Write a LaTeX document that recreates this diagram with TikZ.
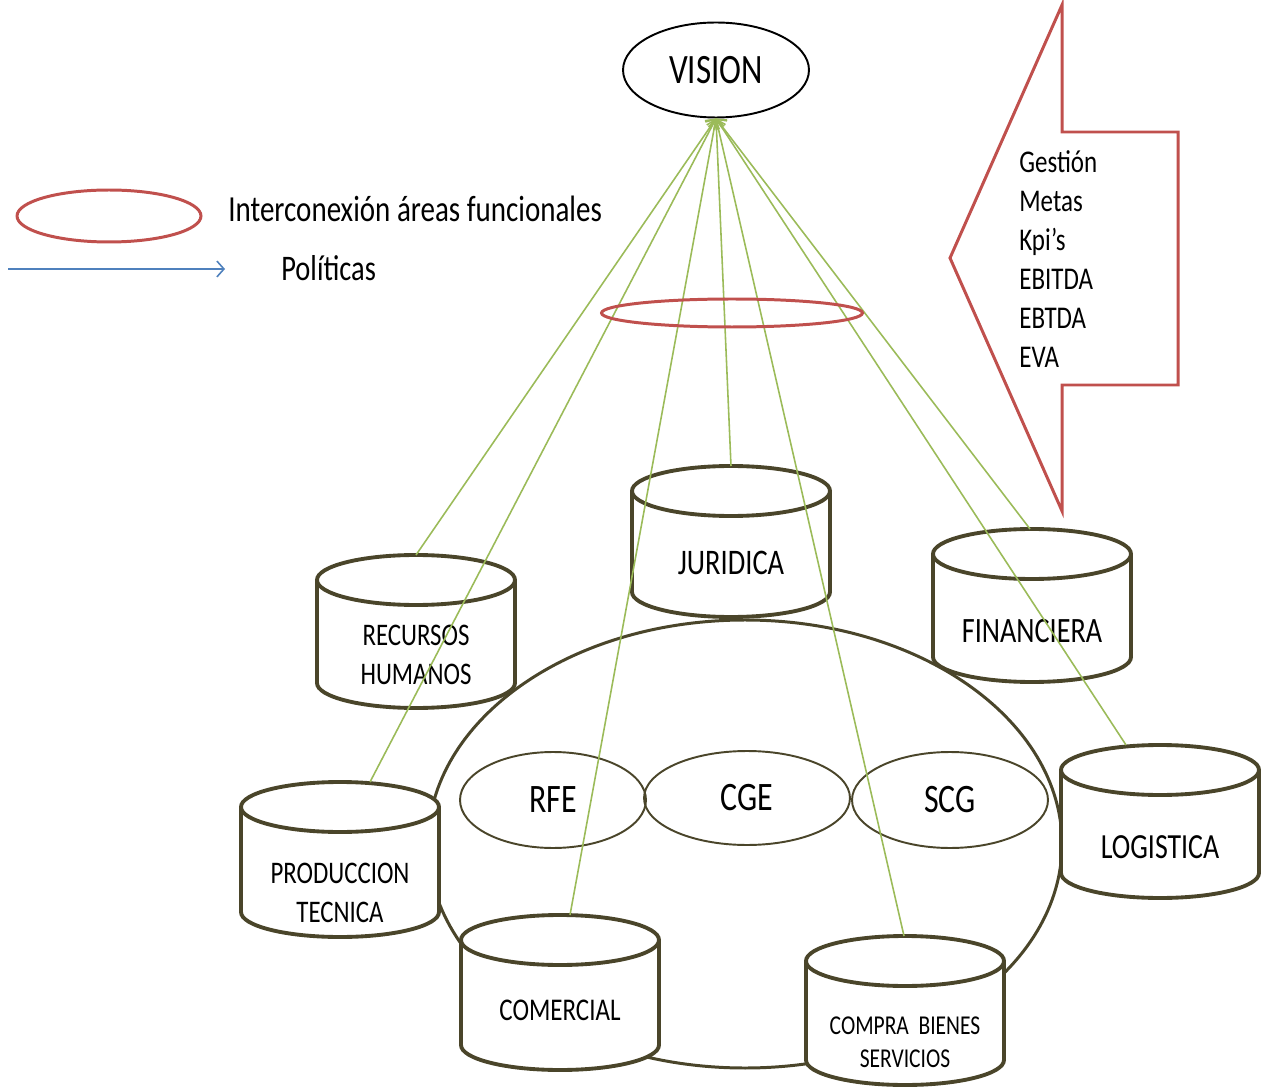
\documentclass[tikz,border=0pt]{standalone}
\usepackage{fontspec}
\setmainfont{Carlito}[FakeStretch=0.79]
\usetikzlibrary{shapes.geometric,arrows.meta}
\definecolor{oliva}{RGB}{74,69,42}
\definecolor{verde}{RGB}{155,187,89}
\definecolor{rojo}{RGB}{192,80,77}
\definecolor{azul}{RGB}{79,129,189}
\tikzset{
  cilindro/.style={draw=oliva,line width=2.2pt},
  area/.style={ellipse,draw=oliva,line width=1.1pt,inner sep=0pt,font=\fontsize{23}{27}\selectfont},
  politica/.style={verde,line width=0.9pt,-{Straight Barb[length=4pt,width=9pt]}},
  interconexion/.style={ellipse,draw=rojo,line width=1.7pt,inner sep=0pt},
}
\begin{document}
\begin{tikzpicture}[x=0.02cm,y=-0.02cm]
	\useasboundingbox (0,0) rectangle (1264,1087);
	% area central
	\draw[oliva,line width=1.7pt] (745,844) ellipse [x radius=317,y radius=224];
	\node[area,minimum width=3.72cm,minimum height=1.92cm] (rfe) at (553,800) {RFE};
	\node[area,minimum width=4.12cm,minimum height=1.88cm] (cge) at (747,798) {CGE};
	\node[area,minimum width=3.92cm,minimum height=1.92cm] (scg) at (950,800) {SCG};
	% areas funcionales
	\foreach \n/\cx/\yt/\yb/\lx/\ty/\fs/\ls/\txt in {
		rrhh/416/580/683/416/655/17.9/22.1/{RECURSOS\\HUMANOS},
		juridica/731/491/592/731/563/20.5/24/{JURIDICA},
		financiera/1032/554/657/1030/631/20.3/24/{FINANCIERA},
		produccion/340/807/912/370/893/17.9/22.1/{PRODUCCION\\TECNICA},
		logistica/1160/770/873/1126/847/20.1/24/{LOGISTICA},
		comercial/560/940/1045/570/1010/18/22/{COMERCIAL},
		compra/905/961/1060/904/1042/15.5/18.7/{COMPRA\ \ BIENES\\SERVICIOS}}{
		\draw[cilindro,fill=white] (\cx,\yb) ellipse [x radius=99,y radius=25];
		\fill[white] (\cx-99,\yt) rectangle (\cx+99,\yb);
		\draw[cilindro] (\cx-99,\yt) -- (\cx-99,\yb) (\cx+99,\yt) -- (\cx+99,\yb);
		\draw[cilindro,fill=white] (\cx,\yt) ellipse [x radius=99,y radius=25];
		\node[font=\fontsize{\fs}{\ls}\selectfont,align=center] (\n) at (\cx,\ty) {\txt};
		\coordinate (\n-top) at (\lx,\yt-25);
	}
	% vision
	\node[ellipse,draw,line width=1.1pt,inner sep=0pt,minimum width=3.72cm,minimum height=1.9cm,
		font=\fontsize{23.8}{28}\selectfont] (vision) at (716,70) {VISION};
	\foreach \n in {rrhh,produccion,comercial,juridica,compra,financiera,logistica}
		\draw[politica] (\n-top) -- (vision.south);
	\node[interconexion,minimum width=5.22cm,minimum height=0.56cm] (anillo) at (732,313) {};
	% leyenda
	\node[interconexion,minimum width=3.68cm,minimum height=1.04cm] (leyenda) at (109,216) {};
	\node[anchor=west,inner sep=0pt,font=\fontsize{20.9}{24}\selectfont] (interc) at (228,209) {Interconexión áreas funcionales};
	\coordinate (pol-ini) at (8,269);
	\coordinate (pol-fin) at (225,269);
	\draw[azul,line width=0.9pt,-{Straight Barb[length=4pt,width=9pt]}] (pol-ini) -- (pol-fin);
	\node[anchor=west,inner sep=0pt,font=\fontsize{20.5}{24}\selectfont] (pol) at (281,268) {Políticas};
	% indicadores
	\draw[rojo,line width=1.7pt] (1062,5) -- (950,258) -- (1062,511) -- (1062,385)
		-- (1178,385) -- (1178,132) -- (1062,132) -- cycle;
	\node[anchor=west,align=left,inner sep=0pt,font=\fontsize{18}{22.1}\selectfont] (metas) at (1019,259)
		{Gestión\\Metas\\Kpi’s\\EBITDA\\EBTDA\\EVA};
\end{tikzpicture}
\end{document}
